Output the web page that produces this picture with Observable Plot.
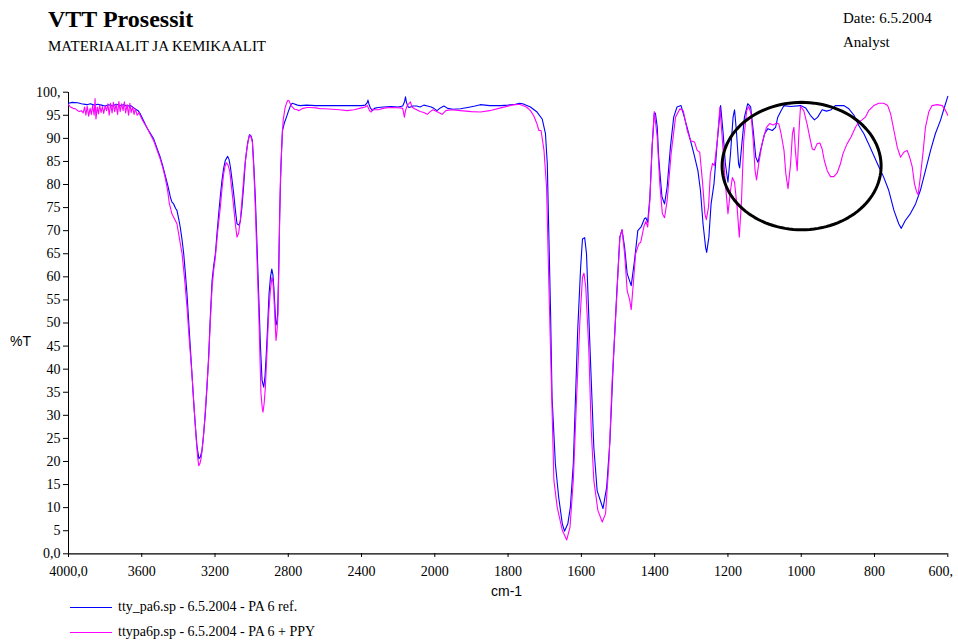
<!DOCTYPE html>
<html><head><meta charset="utf-8">
<script src="https://cdn.jsdelivr.net/npm/d3@7"></script>
<script src="https://cdn.jsdelivr.net/npm/@observablehq/plot@0.6"></script>
<style>
body{margin:0;background:#fff;}
#wrap{position:relative;width:958px;height:642px;overflow:hidden;background:#fff;}
.t{position:absolute;white-space:nowrap;font-family:"Liberation Serif","Times New Roman",serif;color:#000;line-height:1;}
.s{position:absolute;white-space:nowrap;font-family:"Liberation Sans",Arial,sans-serif;color:#000;line-height:1;}
.lg{position:absolute;height:1.2px;}
</style></head><body>
<div id="wrap">
  <div class="t" style="left:48px;top:7px;font-size:24px;font-weight:bold;">VTT Prosessit</div>
  <div class="t" style="left:48px;top:38.5px;font-size:15px;">MATERIAALIT JA KEMIKAALIT</div>
  <div class="t" style="left:843px;top:11px;font-size:15px;">Date: 6.5.2004</div>
  <div class="t" style="left:843px;top:34.5px;font-size:15px;">Analyst</div>
  <div class="s" style="left:10px;top:334px;font-size:14px;">%T</div>
  <div class="s" style="left:491px;top:584px;font-size:14px;">cm-1</div>
  <div class="lg" id="lgl1" style="left:70px;top:606.5px;width:42px;"></div>
  <div class="t" id="lg1" style="left:118px;top:599.5px;font-size:14px;"></div>
  <div class="lg" id="lgl2" style="left:70px;top:631.5px;width:42px;"></div>
  <div class="t" id="lg2" style="left:118px;top:624.5px;font-size:14px;"></div>
</div>
<script>
// Series names
const seriesNames = ["tty_pa6.sp - 6.5.2004 - PA 6 ref.", "ttypa6p.sp - 6.5.2004 - PA 6 + PPY"];
const seriesColors = ["#0000ff", "#ff00ff"];

// Axis ticks
const xTicks = [4000, 3600, 3200, 2800, 2400, 2000, 1800, 1600, 1400, 1200, 1000, 800, 600];
const xTickLabels = ["4000,0", "3600", "3200", "2800", "2400", "2000", "1800", "1600", "1400", "1200", "1000", "800", "600,"];
const yTicks = [0,5,10,15,20,25,30,35,40,45,50,55,60,65,70,75,80,85,90,95,100];
const yTickLabels = ["0,0","5","10","15","20","25","30","35","40","45","50","55","60","65","70","75","80","85","90","95","100,"];

// Spectrum: PA 6 ref. [wavenumber cm-1, %T]
const blue = [
[4000,97.6],[3980,97.8],[3950,97.7],[3930,97.5],[3900,97.3],[3880,97.5],[3860,97.2],[3840,97.4],[3820,97.2],[3800,97.0],
[3780,97.3],[3760,97.0],[3740,97.4],[3720,97.1],[3700,97.3],[3680,97.0],[3660,97.1],[3640,96.5],[3620,96.0],[3608,95.3],
[3590,93.8],[3572,92.3],[3555,91.2],[3535,89.9],[3518,88.0],[3499,85.9],[3485,84.0],[3472,82.0],[3458,79.8],[3444,77.3],
[3435,76.2],[3426,75.8],[3415,74.8],[3408,74.4],[3398,72.5],[3390,70.8],[3380,68.0],[3371,65.0],[3362,60.8],[3353,56.3],
[3344,50.5],[3335,44.8],[3326,39.0],[3317,33.2],[3308,28.0],[3298,23.1],[3288,20.6],[3280,21.0],[3271,22.4],[3262,26.0],
[3253,30.3],[3244,36.0],[3235,42.6],[3226,51.0],[3216,59.2],[3207,62.5],[3198,65.0],[3189,69.5],[3180,73.6],[3171,77.5],
[3162,80.9],[3153,83.5],[3144,85.2],[3131,86.1],[3124,85.5],[3116,83.8],[3107,81.0],[3098,78.0],[3089,74.5],[3080,71.5],
[3070,71.2],[3062,72.0],[3053,75.1],[3043,80.0],[3034,85.2],[3022,89.0],[3011,90.8],[3003,90.5],[2996,89.5],[2988,84.0],
[2980,77.3],[2970,66.0],[2961,55.6],[2952,45.0],[2943,37.5],[2934,36.1],[2927,38.5],[2920,43.3],[2912,50.0],[2905,56.3],
[2897,60.0],[2890,61.7],[2884,60.5],[2879,57.8],[2873,53.5],[2868,49.5],[2863,50.0],[2858,52.0],[2852,62.0],[2847,73.6],
[2840,84.0],[2832,91.7],[2820,93.5],[2810,94.6],[2798,96.0],[2788,97.1],[2779,97.6],[2770,97.5],[2750,97.2],[2734,97.1],
[2700,97.2],[2650,97.1],[2600,97.1],[2550,97.1],[2500,97.1],[2450,97.1],[2400,97.1],[2380,97.2],[2368,97.8],[2365,98.3],
[2360,97.5],[2352,96.6],[2340,96.0],[2330,96.5],[2310,96.7],[2280,96.8],[2240,96.9],[2200,96.8],[2175,97.0],[2165,98.0],
[2160,99.0],[2155,97.8],[2145,96.8],[2140,96.7],[2120,97.0],[2100,97.0],[2080,96.8],[2060,97.2],[2040,97.0],[2020,96.8],
[2005,96.5],[1994,96.0],[1985,96.6],[1975,97.0],[1965,96.5],[1950,96.3],[1930,96.4],[1910,96.7],[1890,97.0],[1876,97.3],
[1850,97.1],[1820,97.1],[1800,97.2],[1780,97.4],[1769,97.6],[1760,97.5],[1739,96.8],[1721,95.7],[1707,94.2],[1698,91.0],
[1693,84.5],[1689,70.0],[1684,52.0],[1680,33.9],[1671,19.5],[1662,12.3],[1652,6.5],[1646,4.9],[1637,6.5],[1630,10.1],
[1622,19.5],[1616,33.9],[1610,48.4],[1602,62.1],[1597,68.2],[1591,68.5],[1586,65.0],[1580,52.0],[1573,37.5],[1566,23.1],
[1557,13.7],[1548,11.5],[1541,9.8],[1531,14.4],[1522,24.5],[1513,41.2],[1504,55.6],[1495,68.6],[1489,70.2],[1482,66.4],
[1475,60.7],[1464,58.1],[1455,63.5],[1446,70.0],[1437,70.8],[1428,72.6],[1424,72.8],[1419,71.8],[1413,77.3],[1407,88.1],
[1401,95.5],[1398,95.5],[1393,92.5],[1389,85.9],[1384,81.0],[1380,77.3],[1373,75.8],[1366,79.4],[1357,88.1],[1348,94.6],
[1339,96.8],[1328,97.1],[1319,94.6],[1307,91.0],[1293,86.7],[1282,83.0],[1275,78.7],[1268,71.5],[1261,66.4],[1258,65.3],
[1252,68.6],[1246,75.8],[1238,80.2],[1229,89.5],[1220,97.1],[1213,91.0],[1207,84.5],[1200,80.5],[1193,86.7],[1186,94.6],
[1182,96.2],[1177,91.7],[1171,84.5],[1168,83.6],[1162,88.8],[1155,94.6],[1146,97.5],[1138,96.8],[1131,91.7],[1124,85.9],
[1118,84.8],[1111,87.4],[1100,91.0],[1091,92.1],[1079,91.7],[1070,92.4],[1064,94.6],[1055,96.0],[1047,97.1],[1029,96.9],
[1002,97.1],[988,96.6],[975,95.0],[964,94.0],[955,94.6],[943,96.2],[931,95.9],[918,96.2],[907,97.1],[884,97.1],
[870,96.4],[856,95.0],[843,92.8],[829,91.0],[816,88.8],[802,86.3],[788,83.8],[775,81.6],[761,78.7],[747,74.4],
[734,71.5],[727,70.5],[716,72.2],[702,73.7],[688,75.8],[675,78.7],[661,83.0],[647,87.4],[634,91.0],[620,93.9],
[609,96.8],[600,99.1]
];

// Spectrum: PA 6 + PPY [wavenumber cm-1, %T]
const magenta = [
[4000,97.3],[3990,96.8],[3975,96.5],[3962,96.4],[3950,96.0],[3940,95.8],[3930,96.0],[3920,95.5],[3912,96.8],[3905,95.0],
[3898,97.0],[3890,94.8],[3882,96.5],[3875,95.2],[3868,97.1],[3860,95.0],[3855,98.6],[3850,94.2],[3843,96.8],[3836,95.3],
[3830,97.2],[3822,95.6],[3815,96.9],[3808,95.4],[3800,97.0],[3792,96.0],[3785,97.5],[3778,95.0],[3770,97.6],[3762,95.5],
[3755,97.8],[3748,95.8],[3740,97.4],[3732,95.2],[3725,98.0],[3718,95.8],[3710,97.5],[3702,96.0],[3695,97.9],[3688,95.5],
[3680,97.3],[3672,95.0],[3665,97.6],[3658,95.6],[3650,96.8],[3642,95.2],[3635,96.4],[3625,95.0],[3615,95.6],[3608,94.9],
[3590,93.5],[3572,92.4],[3555,91.0],[3535,89.5],[3518,87.6],[3499,85.5],[3485,83.6],[3472,81.5],[3458,78.5],[3450,76.0],
[3435,73.6],[3420,72.5],[3408,71.5],[3395,68.5],[3380,65.0],[3366,59.5],[3353,53.4],[3340,46.0],[3326,39.0],[3314,31.5],
[3302,24.5],[3295,21.0],[3289,19.1],[3282,19.6],[3275,20.9],[3264,25.0],[3253,31.0],[3244,36.5],[3235,41.9],[3226,50.0],
[3216,57.8],[3207,61.5],[3198,64.3],[3185,70.0],[3171,75.1],[3162,79.0],[3153,82.3],[3145,84.0],[3138,84.7],[3130,84.3],
[3120,83.0],[3110,79.5],[3098,75.1],[3089,71.5],[3080,68.6],[3071,69.5],[3062,72.2],[3050,78.0],[3040,83.0],[3027,87.5],
[3014,90.6],[3005,90.5],[2996,89.2],[2988,83.0],[2980,75.1],[2970,63.0],[2961,52.0],[2955,43.0],[2949,34.7],[2942,31.5],
[2938,30.7],[2932,32.5],[2925,36.1],[2916,44.0],[2907,52.0],[2898,57.0],[2889,59.9],[2884,59.0],[2879,56.3],[2873,51.0],
[2867,46.2],[2862,48.0],[2856,52.0],[2850,66.0],[2843,80.9],[2836,88.0],[2828,93.9],[2818,96.5],[2810,97.6],[2803,98.2],
[2797,98.2],[2785,97.1],[2765,96.3],[2751,96.2],[2743,96.0],[2720,96.5],[2697,96.7],[2679,96.7],[2650,96.6],[2624,96.4],
[2600,96.4],[2560,96.3],[2520,96.2],[2478,96.0],[2440,96.2],[2400,96.6],[2380,96.8],[2368,97.1],[2360,96.3],[2352,95.8],
[2347,95.7],[2340,96.3],[2330,96.2],[2310,96.2],[2270,96.6],[2230,96.7],[2190,96.6],[2175,96.5],[2166,94.6],[2160,96.0],
[2150,97.2],[2140,97.6],[2133,97.9],[2125,96.8],[2110,96.4],[2080,95.8],[2060,95.6],[2041,95.2],[2025,95.8],[2010,96.2],
[1995,95.8],[1980,95.2],[1970,96.0],[1955,96.2],[1930,96.0],[1900,95.8],[1876,95.7],[1850,96.0],[1820,96.6],[1790,97.2],
[1769,97.4],[1750,96.8],[1739,96.0],[1730,94.9],[1721,93.1],[1716,91.7],[1710,91.7],[1702,87.4],[1695,79.4],[1689,59.2],
[1682,37.5],[1675,15.9],[1666,10.1],[1652,5.1],[1640,3.0],[1631,5.8],[1622,15.9],[1613,33.9],[1604,50.5],[1597,59.9],
[1593,60.8],[1588,57.8],[1580,44.8],[1573,26.7],[1566,15.9],[1555,9.4],[1543,6.9],[1534,8.7],[1525,19.5],[1516,37.5],
[1504,54.9],[1495,68.6],[1489,70.2],[1482,65.0],[1475,57.0],[1468,54.9],[1464,52.9],[1459,57.8],[1452,65.0],[1443,67.2],
[1438,67.5],[1429,71.0],[1424,72.0],[1419,70.8],[1413,76.6],[1407,88.1],[1401,95.8],[1393,90.3],[1386,80.2],[1379,73.7],
[1373,72.8],[1366,76.5],[1355,86.7],[1343,94.6],[1331,96.4],[1322,96.0],[1311,91.7],[1302,89.5],[1291,89.2],[1284,87.4],
[1277,87.0],[1269,80.2],[1263,73.7],[1259,72.4],[1253,75.1],[1248,82.3],[1242,84.6],[1237,84.1],[1229,89.5],[1222,96.8],
[1215,89.5],[1207,80.2],[1200,73.7],[1193,78.7],[1188,81.5],[1182,80.5],[1175,75.1],[1169,68.6],[1163,76.5],[1157,89.5],
[1149,96.0],[1143,96.9],[1137,95.3],[1131,89.5],[1126,83.0],[1122,81.0],[1116,84.5],[1107,88.8],[1095,92.4],[1086,93.2],
[1077,92.9],[1067,93.3],[1061,93.1],[1055,91.0],[1047,87.4],[1042,82.3],[1036,79.1],[1029,84.5],[1024,91.0],[1020,92.4],
[1016,87.4],[1011,83.0],[1006,91.7],[1002,96.9],[993,96.0],[984,93.1],[977,90.3],[970,87.7],[964,87.5],[957,88.8],
[949,89.0],[943,87.7],[937,85.2],[929,83.0],[920,81.7],[911,81.7],[902,82.5],[893,84.5],[886,86.7],[875,88.8],
[864,90.3],[852,92.4],[843,93.5],[834,94.0],[825,94.6],[816,96.0],[802,97.1],[788,97.6],[775,97.6],[764,97.1],
[756,95.3],[747,91.7],[738,88.1],[729,85.9],[720,87.0],[711,87.4],[704,85.9],[697,83.8],[691,80.2],[685,78.4],
[681,77.8],[675,81.6],[667,87.4],[661,92.4],[652,95.7],[643,97.1],[629,97.3],[615,97.1],[606,96.0],[600,95.0]
];

// Highlight ellipse annotation (data units)
const ellipseCenter = [999, 84];
const ellipseRadii = [217, 13.8];

document.getElementById("lg1").textContent = seriesNames[0];
document.getElementById("lg2").textContent = seriesNames[1];
document.getElementById("lgl1").style.background = seriesColors[0];
document.getElementById("lgl2").style.background = seriesColors[1];

const ellipsePts = d3.range(0, 360, 3).map(a => [
  ellipseCenter[0] + ellipseRadii[0] * Math.cos(a * Math.PI / 180),
  ellipseCenter[1] + ellipseRadii[1] * Math.sin(a * Math.PI / 180)
]);

const chart = Plot.plot({
  width: 958,
  height: 600,
  marginLeft: 68,
  marginRight: 11,
  marginTop: 92,
  marginBottom: 47,
  style: {fontFamily: "'Liberation Serif', 'Times New Roman', serif", fontSize: "14px", background: "transparent", color: "#000", overflow: "visible"},
  x: {
    type: "linear",
    domain: [4000, 2000, 600],
    range: [68, 434.3, 947.3],
    ticks: xTicks,
    tickFormat: d => xTickLabels[xTicks.indexOf(d)],
    tickSize: 4,
    tickPadding: 8.5,
    label: null
  },
  y: {
    type: "linear",
    domain: [0, 100],
    range: [553.3, 91.7],
    ticks: yTicks,
    tickFormat: d => yTickLabels[yTicks.indexOf(d)],
    tickSize: 5,
    tickPadding: 3,
    label: null
  },
  marks: [
    Plot.ruleX([4000], {stroke: "#000", strokeWidth: 1}),
    Plot.ruleY([0], {stroke: "#000", strokeWidth: 1.2}),
    Plot.line(blue, {x: d => d[0], y: d => d[1], stroke: seriesColors[0], strokeWidth: 1.1}),
    Plot.line(magenta, {x: d => d[0], y: d => d[1], stroke: seriesColors[1], strokeWidth: 1.1}),
    Plot.line(ellipsePts, {x: d => d[0], y: d => d[1], stroke: "#000", strokeWidth: 3, curve: "linear-closed"})
  ]
});
chart.style.position = "absolute";
chart.style.left = "0px";
chart.style.top = "0px";
// keep the last x tick label ("600,") inside the frame, as in the reference
chart.querySelectorAll("text").forEach(t => {
  if (t.textContent === xTickLabels[xTickLabels.length - 1]) t.setAttribute("dx", "-7");
});
document.getElementById("wrap").insertBefore(chart, document.getElementById("wrap").firstChild);
</script>
</body></html>
